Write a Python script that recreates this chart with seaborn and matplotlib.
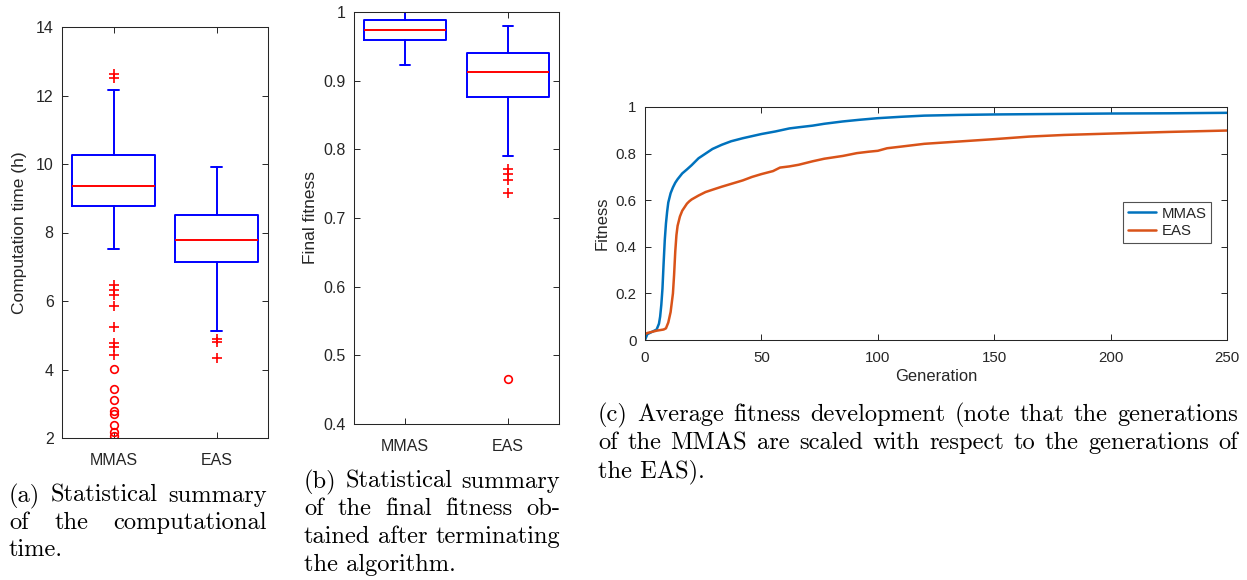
import matplotlib
matplotlib.use("Agg")
import matplotlib.pyplot as plt
import seaborn as sns
import pandas as pd

# ---------------- data ----------------
categories = ["MMAS", "EAS"]

# (a) computation time (h)
time_whislo = [7.53, 5.11]
time_q1 = [8.76, 7.15]
time_med = [9.37, 7.78]
time_q3 = [10.25, 8.52]
time_whishi = [12.15, 9.92]
time_out_plus = [[12.62, 12.52, 6.46, 6.31, 6.18, 5.86, 5.23, 4.77, 4.67, 4.43],
                 [4.89, 4.79, 4.35]]
time_out_circle = [[4.01, 3.44, 3.10, 2.79, 2.71, 2.38, 2.17, 2.05], []]

# (b) final fitness
fit_whislo = [0.923, 0.790]
fit_q1 = [0.959, 0.876]
fit_med = [0.974, 0.913]
fit_q3 = [0.989, 0.940]
fit_whishi = [1.000, 0.980]
fit_out_plus = [[], [0.771, 0.764, 0.756, 0.736]]
fit_out_circle = [[], [0.466]]

# (c) average fitness development
gen_mmas = [0, 1, 3, 5, 6, 6.5, 7, 7.5, 8, 8.5, 9, 9.5, 10, 11, 12, 13, 14, 16, 18, 20,
            23, 26, 29, 33, 37, 42, 50, 56, 62, 66, 72, 77, 85, 92, 100, 110, 120,
            135, 150, 175, 200, 225, 250]
fit_mmas = [0.0, 0.025, 0.035, 0.045, 0.07, 0.10, 0.15, 0.22, 0.33, 0.43, 0.50, 0.55,
            0.59, 0.63, 0.655, 0.675, 0.69, 0.715, 0.732, 0.75, 0.78, 0.80, 0.82,
            0.838, 0.853, 0.866, 0.884, 0.895, 0.908, 0.913, 0.92, 0.928, 0.938,
            0.945, 0.952, 0.958, 0.963, 0.966, 0.968, 0.970, 0.972, 0.973, 0.975]
gen_eas = [0, 1, 5, 8, 9, 10, 11, 12, 12.5, 13, 13.5, 14, 15, 16, 17, 18, 19, 20, 23,
           26, 29, 33, 37, 42, 46, 50, 55, 58, 62, 66, 72, 77, 85, 91, 96, 100, 104,
           110, 120, 135, 150, 165, 180, 200, 225, 250]
fit_eas = [0.025, 0.03, 0.04, 0.045, 0.05, 0.075, 0.12, 0.20, 0.28, 0.38, 0.45, 0.49,
           0.53, 0.555, 0.57, 0.585, 0.595, 0.603, 0.62, 0.635, 0.645, 0.658, 0.67,
           0.685, 0.70, 0.712, 0.725, 0.74, 0.745, 0.752, 0.767, 0.778, 0.79, 0.802,
           0.808, 0.812, 0.823, 0.83, 0.842, 0.852, 0.862, 0.873, 0.88, 0.886,
           0.893, 0.899]

caption_a = ["(a) Statistical summary", "of the computational", "time."]
caption_b = ["(b) Statistical summary", "of the final fitness ob-",
             "tained after terminating", "the algorithm."]
caption_c = ["(c) Average fitness development (note that the generations",
             "of the MMAS are scaled with respect to the generations of",
             "the EAS)."]

# ---------------- style ----------------
sns.set_theme(style="ticks")
DARK = "#262626"
plt.rcParams.update({
    "font.family": ["Liberation Sans", "DejaVu Sans"],
    "xtick.direction": "in", "ytick.direction": "in",
    "xtick.top": True, "ytick.right": True,
    "xtick.major.size": 4, "ytick.major.size": 4,
    "xtick.major.width": 0.7, "ytick.major.width": 0.7,
    "axes.edgecolor": DARK, "axes.linewidth": 0.75,
    "xtick.color": DARK, "ytick.color": DARK,
    "xtick.labelcolor": DARK, "ytick.labelcolor": DARK,
    "axes.labelcolor": DARK, "text.color": DARK,
})

W, H = 1247, 580
fig = plt.figure(figsize=(W / 100, H / 100), dpi=100)
fig.patch.set_facecolor("white")


def px_axes(left, top, right, bottom):
    return fig.add_axes([left / W, 1 - bottom / H, (right - left) / W, (bottom - top) / H])


ax_a = px_axes(62, 27, 268, 438)
ax_b = px_axes(354, 12, 559, 424)
ax_c = px_axes(645, 107, 1227, 340)

BOX_TICK_FS = 11.5
BOX_LABEL_FS = 12.5


def draw_box(ax, lo, q1, med, q3, hi, plus, circ):
    stats = [dict(med=med[i], q1=q1[i], q3=q3[i], whislo=lo[i], whishi=hi[i],
                  fliers=plus[i], label=categories[i]) for i in range(len(categories))]
    blue = dict(color="#0000FF", lw=1.4)
    ax.bxp(stats, positions=[1, 2], widths=0.8, capwidths=0.1,
           boxprops=blue, whiskerprops=blue, capprops=blue,
           medianprops=dict(color="#FF0000", lw=1.4),
           flierprops=dict(marker="+", markeredgecolor="#FF0000", markersize=6.5,
                           markeredgewidth=1.2, linestyle="none"))
    for i, c in enumerate(circ):
        if c:
            ax.plot([i + 1] * len(c), c, "o", mfc="none", mec="#FF0000", ms=5.5, mew=1.2,
                    linestyle="none")
    ax.set_xlim(0.5, 2.5)
    ax.set_xticks([1, 2])
    ax.set_xticklabels(categories)
    ax.tick_params(axis="x", pad=11, labelsize=BOX_TICK_FS)
    ax.tick_params(axis="y", pad=6, labelsize=BOX_TICK_FS)


draw_box(ax_a, time_whislo, time_q1, time_med, time_q3, time_whishi,
         time_out_plus, time_out_circle)
ax_a.set_ylim(2, 14)
ax_a.set_yticks([2, 4, 6, 8, 10, 12, 14])
ax_a.set_yticklabels(["2", "4", "6", "8", "10", "12", "14"])
ax_a.set_ylabel("Computation time (h)", fontsize=BOX_LABEL_FS, labelpad=6)

draw_box(ax_b, fit_whislo, fit_q1, fit_med, fit_q3, fit_whishi,
         fit_out_plus, fit_out_circle)
ax_b.set_ylim(0.4, 1.0)
ax_b.set_yticks([0.4, 0.5, 0.6, 0.7, 0.8, 0.9, 1.0])
ax_b.set_yticklabels(["0.4", "0.5", "0.6", "0.7", "0.8", "0.9", "1"])
ax_b.set_ylabel("Final fitness", fontsize=BOX_LABEL_FS, labelpad=4)

df = pd.concat([
    pd.DataFrame({"Generation": gen_mmas, "Fitness": fit_mmas, "Algorithm": "MMAS"}),
    pd.DataFrame({"Generation": gen_eas, "Fitness": fit_eas, "Algorithm": "EAS"}),
])
sns.lineplot(data=df, x="Generation", y="Fitness", hue="Algorithm",
             palette=["#0072BD", "#D95319"], lw=1.8, ax=ax_c)
ax_c.set_xlim(0, 250)
ax_c.set_ylim(0, 1)
ax_c.set_xticks([0, 50, 100, 150, 200, 250])
ax_c.set_xticklabels(["0", "50", "100", "150", "200", "250"])
ax_c.set_yticks([0, 0.2, 0.4, 0.6, 0.8, 1.0])
ax_c.set_yticklabels(["0", "0.2", "0.4", "0.6", "0.8", "1"])
ax_c.tick_params(axis="both", labelsize=10.8)
ax_c.tick_params(axis="x", pad=8)
ax_c.tick_params(axis="y", pad=6)
ax_c.set_xlabel("Generation", fontsize=11.9, labelpad=3)
ax_c.set_ylabel("Fitness", fontsize=11.9, labelpad=4)
handles, labels = ax_c.get_legend_handles_labels()
leg = ax_c.legend(handles, labels, loc="upper right", bbox_to_anchor=(0.9725, 0.592),
                  borderaxespad=0, fancybox=False, frameon=True, fontsize=10.8,
                  handlelength=1.9, handletextpad=0.35, borderpad=0.3, labelspacing=0.25)
leg.get_frame().set_edgecolor(DARK)
leg.get_frame().set_linewidth(0.8)

for ax in (ax_a, ax_b, ax_c):
    for s in ax.spines.values():
        s.set_visible(True)

# ---------------- captions (justified, serif) ----------------
renderer = fig.canvas.get_renderer()

# font size chosen so the first (naturally spaced) line of (c) spans its column
probe = fig.text(0, 0, caption_c[0], fontfamily="cmr10", fontsize=10)
probe_w = probe.get_window_extent(renderer=renderer).width
probe.remove()
CAP_FS = 10 * (1238 - 598) / probe_w * 0.985


def caption(lines, x0, x1, baselines):
    for k, (line, yb) in enumerate(zip(lines, baselines)):
        words = line.split(" ")
        last = k == len(lines) - 1
        if last or len(words) == 1:
            fig.text(x0 / W, 1 - yb / H, line, fontfamily="cmr10", fontsize=CAP_FS,
                     va="baseline", ha="left", color="black")
            continue
        texts = [fig.text(0, 0, w, fontfamily="cmr10", fontsize=CAP_FS,
                          va="baseline", ha="left", color="black") for w in words]
        widths = [t.get_window_extent(renderer=renderer).width for t in texts]
        gap = (x1 - x0 - sum(widths)) / (len(words) - 1)
        x = x0
        for t, w in zip(texts, widths):
            t.set_position((x / W, 1 - yb / H))
            x += w + gap


caption(caption_a, 9, 267, [502, 529, 556])
caption(caption_b, 304, 560, [488, 515, 543, 571])
caption(caption_c, 598, 1238, [421, 449, 477])

fig.savefig("out.png", dpi=100, facecolor="white")
